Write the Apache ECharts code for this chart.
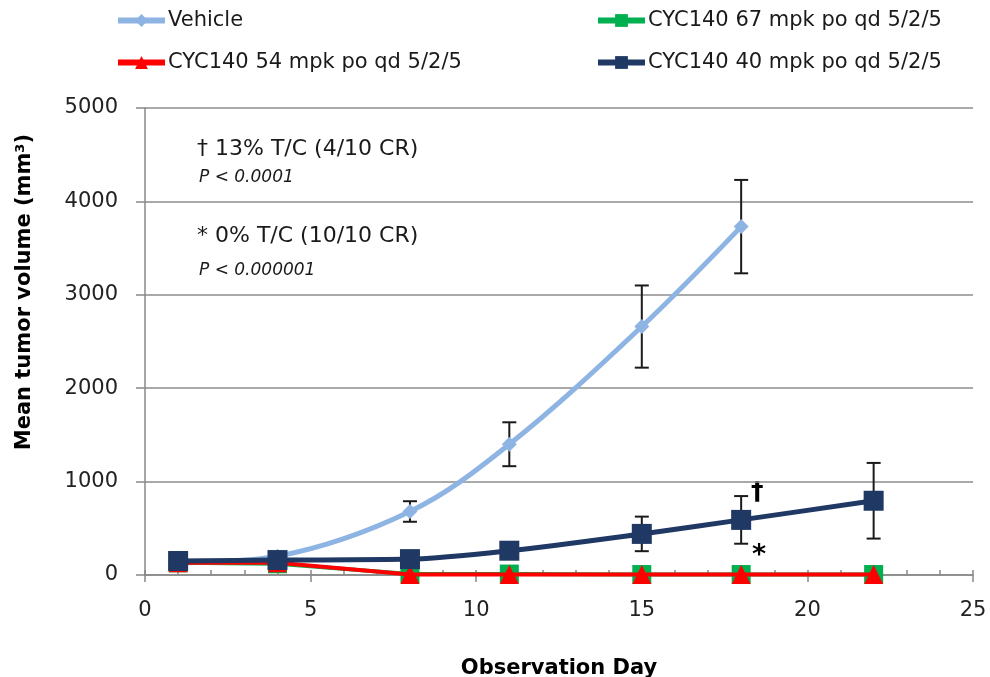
<!DOCTYPE html>
<html><head><meta charset="utf-8">
<script src="https://cdn.jsdelivr.net/npm/echarts@6/dist/echarts.min.js"></script>
<style>html,body{margin:0;padding:0;background:#fff}#c{width:990px;height:677px}</style>
</head><body><div id="c"></div>
<script>
const days = [1, 4, 8, 11, 15, 18, 22];
const vehicleDays = [1, 4, 8, 11, 15, 18];
const vehicle = [130, 200, 680, 1400, 2660, 3730];
const vehicleSd = [10, 20, 110, 235, 440, 500];
const cyc67 = [130, 120, 10, 10, 5, 5, 5];
const cyc54 = [130, 130, 5, 5, 5, 5, 5];
const cyc40 = [150, 160, 170, 260, 440, 590, 795];
const cyc40Sd = [10, 15, 20, 30, 185, 255, 405];
const seriesNames = ['Vehicle', 'CYC140 67 mpk po qd 5/2/5', 'CYC140 54 mpk po qd 5/2/5', 'CYC140 40 mpk po qd 5/2/5'];
const xTicks = [0, 5, 10, 15, 20, 25];
const yTicks = [0, 1000, 2000, 3000, 4000, 5000];

const FONT = 'DejaVu Sans';
const colors = ['#8db4e2', '#00b050', '#ff0000', '#1f3864'];

function pairs(xs, ys) { return xs.map((x, i) => [x, ys[i]]); }
function errData(xs, ys, sd) { return xs.map((x, i) => [x, ys[i] - sd[i], ys[i] + sd[i]]); }

function errRender(params, api) {
  const x = api.value(0);
  const lo = api.coord([x, api.value(1)]);
  const hi = api.coord([x, api.value(2)]);
  const w = 7;
  const st = { stroke: '#1a1a1a', lineWidth: 2 };
  return { type: 'group', children: [
    { type: 'line', shape: { x1: hi[0], y1: hi[1], x2: lo[0], y2: lo[1] }, style: st },
    { type: 'line', shape: { x1: hi[0] - w, y1: hi[1], x2: hi[0] + w, y2: hi[1] }, style: st },
    { type: 'line', shape: { x1: lo[0] - w, y1: lo[1], x2: lo[0] + w, y2: lo[1] }, style: st }
  ]};
}

function legendAt(name, left, top) {
  return { data: [name], left: left, top: top, padding: 0, itemWidth: 47, itemHeight: 16, itemGap: 4,
    lineStyle: { width: 6 },
    textStyle: { fontFamily: FONT, fontSize: 21, color: '#1a1a1a', padding: [0, 0, 0, -2] }, selectedMode: false };
}

const chart = echarts.init(document.getElementById('c'), null, { renderer: 'canvas' });
chart.setOption({
  animation: false,
  backgroundColor: '#fff',
  legend: [
    legendAt(seriesNames[0], 115, 10),
    legendAt(seriesNames[1], 595, 10),
    legendAt(seriesNames[2], 115, 52),
    legendAt(seriesNames[3], 595, 52)
  ],
  grid: { left: 145, right: 17, top: 108, bottom: 102, containLabel: false, outerBoundsMode: 'none' },
  xAxis: [{
    type: 'value', min: xTicks[0], max: xTicks[xTicks.length - 1], interval: 5,
    axisLine: { show: true, lineStyle: { color: '#888', width: 1.5 } },
    axisTick: { show: true, length: 7, lineStyle: { color: '#888', width: 1.5 } },
    splitLine: { show: false },
    axisLabel: { fontFamily: FONT, fontSize: 21, color: '#222', margin: 25 },
    name: 'Observation Day', nameLocation: 'middle', nameGap: 83,
    nameTextStyle: { fontFamily: FONT, fontSize: 21, fontWeight: 'bold', color: '#000' }
  }, {
    type: 'value', position: 'bottom', min: xTicks[0], max: xTicks[xTicks.length - 1], interval: 1,
    axisLine: { show: false },
    axisTick: { show: true, inside: true, length: 5, lineStyle: { color: '#888', width: 1.5 } },
    axisLabel: { show: false }, splitLine: { show: false }
  }],
  yAxis: {
    type: 'value', min: yTicks[0], max: yTicks[yTicks.length - 1], interval: 1000,
    axisLine: { show: true, lineStyle: { color: '#888', width: 1.5 } },
    axisTick: { show: true, length: 9, lineStyle: { color: '#888', width: 1.5 } },
    splitLine: { show: true, lineStyle: { color: '#8c8c8c', width: 1.5 } },
    axisLabel: { fontFamily: FONT, fontSize: 21, color: '#222', margin: 27, formatter: v => String(v) }
  },
  graphic: [
    { type: 'text', left: 14, top: 134, rotation: Math.PI / 2, style: {
      text: '{b|Mean tumor volume (mm}{s|3}{b|)}',
      rich: { b: { fontFamily: FONT, fontSize: 21, fontWeight: 'bold', fill: '#000' },
              s: { fontFamily: FONT, fontSize: 13, fontWeight: 'bold', fill: '#000', verticalAlign: 'top', padding: [0, 0, 9, 0] } } } },
    { type: 'text', left: 197, top: 138, style: { text: '† 13% T/C (4/10 CR)', fontFamily: FONT, fontSize: 22, fill: '#1a1a1a' } },
    { type: 'text', left: 199, top: 169, style: { text: 'P < 0.0001', fontFamily: FONT, fontSize: 17, fontStyle: 'italic', fill: '#1a1a1a' } },
    { type: 'text', left: 197, top: 225, style: { text: '* 0% T/C (10/10 CR)', fontFamily: FONT, fontSize: 22, fill: '#1a1a1a' } },
    { type: 'text', left: 199, top: 262, style: { text: 'P < 0.000001', fontFamily: FONT, fontSize: 17, fontStyle: 'italic', fill: '#1a1a1a' } },
    { type: 'text', left: 751, top: 480, style: { text: '†', fontFamily: FONT, fontSize: 25, fontWeight: 'bold', fill: '#000' } },
    { type: 'text', left: 752, top: 542, style: { text: '*', fontFamily: FONT, fontSize: 27, fontWeight: 'bold', fill: '#000' } }
  ],
  series: [
    { type: 'custom', renderItem: errRender, data: errData(vehicleDays, vehicle, vehicleSd), z: 1, silent: true },
    { type: 'custom', renderItem: errRender, data: errData(days, cyc40, cyc40Sd), z: 1, silent: true },
    { name: seriesNames[0], type: 'line', data: pairs(vehicleDays, vehicle), smooth: 0.35,
      symbol: 'diamond', symbolSize: 15, color: colors[0], lineStyle: { width: 5, color: colors[0] }, z: 2 },
    { name: seriesNames[1], type: 'line', data: pairs(days, cyc67), smooth: false,
      symbol: 'rect', symbolSize: 19, color: colors[1], lineStyle: { width: 4, color: colors[1] }, z: 3 },
    { name: seriesNames[2], type: 'line', data: pairs(days, cyc54), smooth: false,
      symbol: 'triangle', symbolSize: 19, color: colors[2], lineStyle: { width: 4, color: colors[2] }, z: 4 },
    { name: seriesNames[3], type: 'line', data: pairs(days, cyc40), smooth: 0.3,
      symbol: 'rect', symbolSize: 20, color: colors[3], lineStyle: { width: 5, color: colors[3] }, z: 5 }
  ]
});
</script>
</body></html>
